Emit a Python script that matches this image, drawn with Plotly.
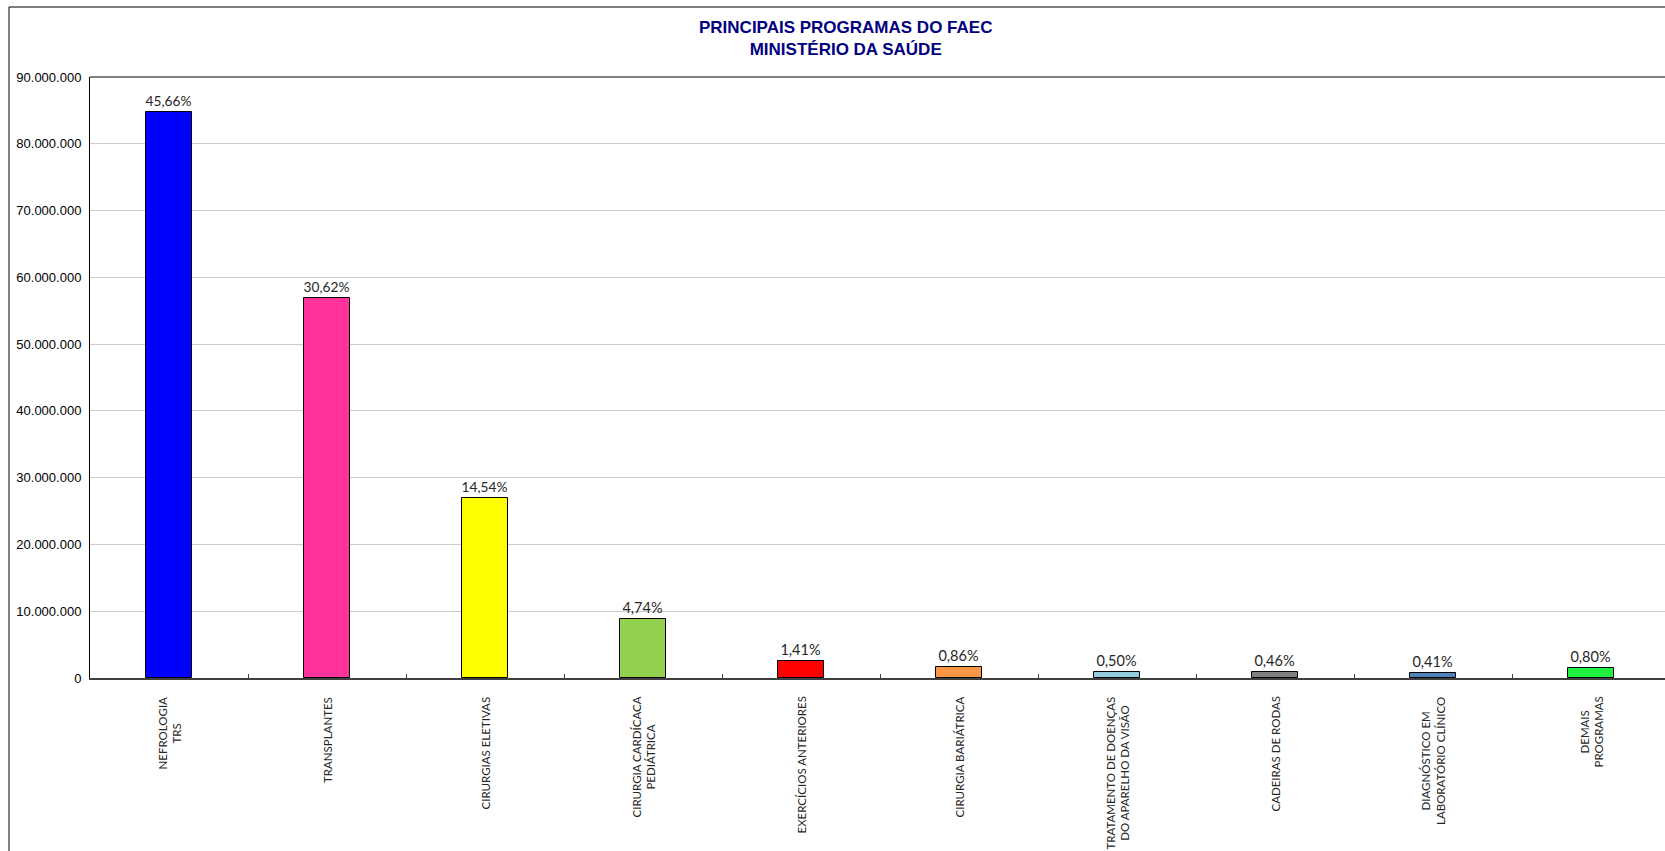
import plotly.graph_objects as go

categories = ["NEFROLOGIA<br>TRS", "TRANSPLANTES", "CIRURGIAS ELETIVAS", "CIRURGIA CARDÍCACA<br>PEDIÁTRICA",
              "EXERCÍCIOS ANTERIORES", "CIRURGIA BARIÁTRICA", "TRATAMENTO DE DOENÇAS<br>DO APARELHO DA VISÃO",
              "CADEIRAS DE RODAS", "DIAGNÓSTICO EM<br>LABORATÓRIO CLÍNICO", "DEMAIS<br>PROGRAMAS"]
values = [84800000, 56870000, 27000000, 8800000, 2620000, 1600000, 930000, 850000, 760000, 1490000]
percent_labels = ["45,66%", "30,62%", "14,54%", "4,74%", "1,41%", "0,86%", "0,50%", "0,46%", "0,41%", "0,80%"]
colors = ["#0000FF", "#FF3399", "#FFFF00", "#92D050", "#FF0000", "#F79646", "#92CDDC", "#808080", "#4F81BD", "#22F040"]
y_ticks = [0, 10000000, 20000000, 30000000, 40000000, 50000000, 60000000, 70000000, 80000000, 90000000]

W, H = 1665, 851
L, T, B = 90, 77, 173
plot_w = W - L
plot_h = H - T - B
cat_w = 158.0

fig = go.Figure()
fig.add_trace(go.Bar(
    x=list(range(len(categories))), y=values,
    marker=dict(color=colors, line=dict(color="#000000", width=1)),
    width=0.29,
    text=percent_labels, textposition="outside", cliponaxis=False,
    textfont=dict(family="Lato", size=14.5, color="#262626"),
    hoverinfo="skip",
))

for i, c in enumerate(categories):
    fig.add_annotation(
        x=i, xref="x", y=-(17 / plot_h), yref="paper",
        text=c, textangle=-90, showarrow=False, align="center",
        xanchor="center", yanchor="top",
        font=dict(family="Lato", size=11.5, color="#262626"),
    )

x_max = -0.5 + plot_w / cat_w
fig.update_xaxes(
    range=[-0.5, x_max], showticklabels=False, showgrid=False,
    showline=True, linecolor="#404040", linewidth=2,
    tickmode="array", tickvals=[i + 0.5 for i in range(len(categories) - 1)],
    ticks="inside", ticklen=4, tickcolor="#404040", tickwidth=1, zeroline=False,
    automargin=False,
)
fig.update_yaxes(
    range=[0, 90000000], tickvals=y_ticks, tickformat=",d",
    showgrid=True, gridcolor="#CCCCCC", gridwidth=1,
    showline=True, linecolor="#000000", linewidth=1, zeroline=False,
    tickfont=dict(family="Liberation Sans", size=13, color="#000000"),
    ticklabelstandoff=5, automargin=False,
)

# outer frame and plot top border
fig.add_shape(type="rect", xref="paper", yref="paper",
              x0=(9 - L) / plot_w, x1=1.2, y0=-1, y1=1 + (T - 7) / plot_h,
              line=dict(color="#000000", width=1), layer="below")
fig.add_shape(type="line", xref="paper", yref="paper", x0=0, x1=1.2, y0=1, y1=1,
              line=dict(color="#000000", width=1))

fig.add_annotation(
    x=(845 - L) / plot_w, xref="paper", y=1 + (T - 38) / plot_h, yref="paper",
    text="<b>PRINCIPAIS PROGRAMAS DO FAEC<br>MINISTÉRIO DA SAÚDE</b>",
    showarrow=False, align="center", xanchor="center", yanchor="middle",
    font=dict(family="Liberation Sans", size=17, color="#000080"),
)

fig.update_layout(
    width=W, height=H, autosize=False,
    margin=dict(l=L, r=0, t=T, b=B, pad=0),
    paper_bgcolor="#FFFFFF", plot_bgcolor="#FFFFFF",
    separators=",.", showlegend=False, bargap=0,
)

fig.write_html(
    "out.html",
    config={"displayModeBar": False},
    post_script="document.body.style.margin='0px';document.body.style.overflow='hidden';"
                "document.documentElement.style.overflow='hidden';",
)
